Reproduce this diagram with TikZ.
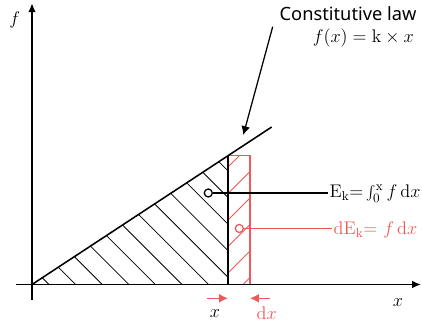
\RequirePackage{fix-cm}
\documentclass[tikz,border=0pt]{standalone}
\usepackage{fontspec}
\usetikzlibrary{arrows.meta}
\newfontfamily\lawfont{Noto Sans}
\definecolor{stripred}{RGB}{238,88,88}

\begin{document}
\begin{tikzpicture}[
  every node/.style={font=\fontsize{13}{15}\selectfont},
  axis/.style={line width=1.1pt, -{Latex[length=2.2mm,width=1.9mm]}},
  hatch/.style={line width=0.55pt},
  pin/.style={circle, draw, line width=0.9pt, inner sep=0pt, minimum size=2mm, fill=white},
  tip/.style={-{Latex[length=2.2mm,width=2.2mm]}},
]
\useasboundingbox (-0.8,-1.0625) rectangle (9.75,7.1125);
\coordinate (O) at (0,0);
\coordinate (Q) at (4.9,0);
\coordinate (P) at (4.9,3.22);
\coordinate (R) at (5.45,3.22);
\coordinate (lawend) at (5.9925,3.9375);

% hatching of E_k
\begin{scope}
\clip (O) -- (Q) -- (P) -- cycle;
\foreach \c in {0,...,11}
  \draw[hatch] ({0.425+0.665*\c+1},-1) -- ({0.425+0.665*\c-5},5);
\end{scope}
% hatching of dE_k
\begin{scope}
\clip (Q) rectangle (R);
\foreach \c in {-1,...,5}
  \draw[hatch, stripred] (4.9,{0.2875+0.6625*\c}) -- ++(1,1);
\end{scope}
\draw[stripred, line width=1pt] (Q) rectangle (R);
\draw[line width=1.1pt] (Q) -- (P);
\draw[line width=1.1pt] (O) -- (lawend);

% axes
\draw[axis] (-0.4,0) -- (9.725,0);
\draw[axis] (0,-0.3875) -- (0,7.03);
\node (xlab) at (9.15,-0.46) {$x$};
\node (flab) at (-0.43,6.61) {$f$};

% law
\node[anchor=base east, font=\lawfont\fontsize{13}{15}\selectfont, inner sep=0pt] (law) at (9.62,6.6) {Constitutive law};
\node[anchor=base east, inner sep=0pt] (laweq) at (9.55,6.05) {$f(x) = \mathrm{k}\times x$};
\coordinate (lawfoot) at (6.0175,6.445);
\coordinate (lawtip) at (5.2825,3.7375);
\draw[tip, line width=0.9pt] (lawfoot) -- (lawtip);

% energies
\node[pin] (Ek) at (4.4075,2.2875) {};
\node[anchor=base west, inner sep=1pt] (Ektext) at (7.4,2.1625) {$\mathrm{E}_{\mathrm{k}}{=}\int_0^{\mathrm{x}} f\,\mathrm{d}x$};
\draw[line width=0.9pt] (Ek) -- (Ek -| Ektext.west);
\node[pin, draw=stripred] (dEk) at (5.1825,1.4) {};
\node[anchor=base west, inner sep=1pt, text=stripred] (dEktext) at (7.5,1.2375) {$\mathrm{dE}_{\mathrm{k}}{=}\ f\,\mathrm{d}x$};
\draw[stripred, line width=0.9pt] (dEk) -- (dEk -| dEktext.west);

% x and dx
\coordinate (xa) at (4.3675,-0.345);
\coordinate (xb) at (4.9,-0.345);
\coordinate (dxa) at (5.95,-0.345);
\coordinate (dxb) at (5.45,-0.345);
\draw[tip, stripred, line width=1.1pt] (xa) -- (xb);
\draw[tip, stripred, line width=1.1pt] (dxa) -- (dxb);
\node (xlow) at (4.575,-0.72) {$x$};
\node[text=stripred] (dxlow) at (5.8675,-0.72) {$\mathrm{d}x$};
\end{tikzpicture}
\end{document}
